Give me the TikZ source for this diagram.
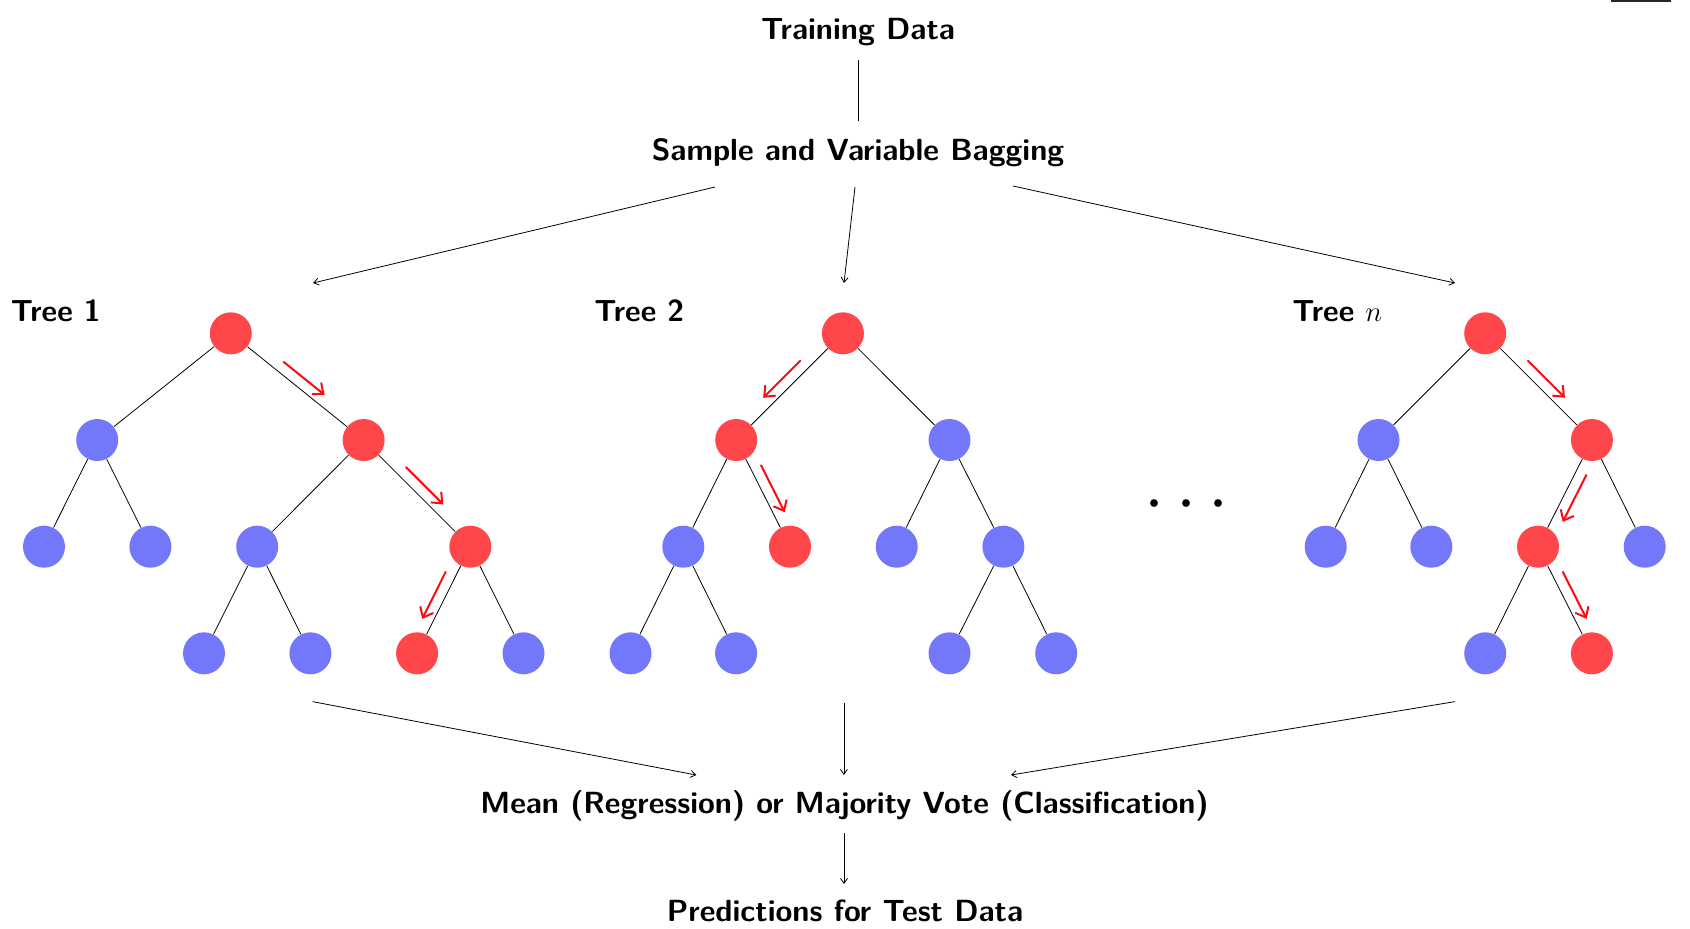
\documentclass[tikz,border=0pt]{standalone}
\usetikzlibrary{calc,arrows.meta}
\definecolor{nodered}{RGB}{255,70,75}
\definecolor{nodeblue}{RGB}{115,120,250}
\definecolor{pathred}{RGB}{255,10,20}
\newcommand\patharr[3]{%
  \coordinate (pm) at ($(#1)!0.5!(#2)$);
  \coordinate (ps0) at ($(pm)!13.25pt!(#1)$);
  \coordinate (pe0) at ($(pm)!13.25pt!(#2)$);
  \coordinate (ps) at ($(ps0)!5.4pt!#3:(pe0)$);
  \coordinate (pe) at ($(ps)+(pe0)-(ps0)$);
  \draw[patharrow] (ps) -- (pe);
}
\begin{document}
\begin{tikzpicture}[x=0.5pt,y=-0.5pt,
  lbl/.style={font=\sffamily\bfseries\fontsize{15.3}{18}\selectfont, inner sep=0, anchor=base},
  tlbl/.style={font=\sffamily\bfseries\fontsize{15.2}{18}\selectfont, inner sep=0, anchor=base west},
  rn/.style={circle, fill=nodered, minimum size=21pt, inner sep=0},
  bn/.style={circle, fill=nodeblue, minimum size=21pt, inner sep=0},
  treeedge/.style={black, line width=0.4pt},
  conn/.style={line width=0.4pt, -{Straight Barb[length=2.5pt,width=3.5pt]}},
  patharrow/.style={pathred, line width=1pt, -{Straight Barb[length=4.4pt,width=7.4pt]}}]
\useasboundingbox (0,0) rectangle (1690,928);
\fill[black!85] (1611,0) rectangle (1671,2);

% labels
\node[lbl] (train) at (858,39.3) {Training Data};
\node[lbl] (bag) at (858,160) {Sample and Variable Bagging};
\node[lbl] (mean) at (844.5,813) {Mean (Regression) or Majority Vote (Classification)};
\node[lbl] (pred) at (845,921) {Predictions for Test Data};
\node[tlbl] (lab1) at (10.5,321.7) {Tree 1};
\node[tlbl] (lab2) at (594,321.7) {Tree 2};
\node[tlbl] (lab3) at (1292,321.7) {Tree $n$};
\node[inner sep=0, anchor=base, font=\fontsize{24.88}{30}\selectfont] (dots) at (1186.3,521.3) {\scalebox{1.447}{$\cdots$}};

% connector end points
\coordinate (tdS) at (858,60);
\coordinate (tdE) at (858,121);
\coordinate (bgL) at (715,187);
\coordinate (bgM) at (855,187);
\coordinate (bgR) at (1013,186);
\coordinate (t1in) at (313,283);
\coordinate (t2in) at (844,283);
\coordinate (t3in) at (1455,283);
\coordinate (t1out) at (312.6,701.6);
\coordinate (t2out) at (843.9,702.7);
\coordinate (t3out) at (1455,701.6);
\coordinate (mnL) at (696.3,775);
\coordinate (mnM) at (843.9,775);
\coordinate (mnR) at (1011,775);
\coordinate (mnS) at (844,833);
\coordinate (prE) at (844,884);

\draw[line width=0.4pt] (tdS) -- (tdE);
\draw[conn] (bgL) -- (t1in);
\draw[conn] (bgM) -- (t2in);
\draw[conn] (bgR) -- (t3in);
\draw[conn] (t1out) -- (mnL);
\draw[conn] (t2out) -- (mnM);
\draw[conn] (t3out) -- (mnR);
\draw[conn] (mnS) -- (prE);

% Tree 1
\node[rn] (t1r) at (230.8,333.3) {};
\node[bn] (t1a) at (97.2,440) {};
\node[rn] (t1b) at (363.6,440) {};
\node[bn] (t1aa) at (44,546.7) {};
\node[bn] (t1ab) at (150.4,546.7) {};
\node[bn] (t1ba) at (257.2,546.7) {};
\node[rn] (t1bb) at (470.3,546.7) {};
\node[bn] (t1baa) at (204,653.3) {};
\node[bn] (t1bab) at (310.4,653.3) {};
\node[rn] (t1bba) at (417.1,653.3) {};
\node[bn] (t1bbb) at (523.5,653.3) {};
\draw[treeedge] (t1r) -- (t1a);
\draw[treeedge] (t1r) -- (t1b);
\draw[treeedge] (t1a) -- (t1aa);
\draw[treeedge] (t1a) -- (t1ab);
\draw[treeedge] (t1b) -- (t1ba);
\draw[treeedge] (t1b) -- (t1bb);
\draw[treeedge] (t1ba) -- (t1baa);
\draw[treeedge] (t1ba) -- (t1bab);
\draw[treeedge] (t1bb) -- (t1bba);
\draw[treeedge] (t1bb) -- (t1bbb);
\patharr{t1r}{t1b}{90}
\patharr{t1b}{t1bb}{90}
\patharr{t1bb}{t1bba}{-90}

% Tree 2
\node[rn] (t2r) at (842.9,333.3) {};
\node[rn] (t2a) at (736.2,440) {};
\node[bn] (t2b) at (949.5,440) {};
\node[bn] (t2aa) at (683.3,546.7) {};
\node[rn] (t2ab) at (790,546.7) {};
\node[bn] (t2ba) at (896.7,546.7) {};
\node[bn] (t2bb) at (1003.4,546.7) {};
\node[bn] (t2aaa) at (630.5,653.3) {};
\node[bn] (t2aab) at (736.1,653.3) {};
\node[bn] (t2bba) at (949.5,653.3) {};
\node[bn] (t2bbb) at (1056.2,653.3) {};
\draw[treeedge] (t2r) -- (t2a);
\draw[treeedge] (t2r) -- (t2b);
\draw[treeedge] (t2a) -- (t2aa);
\draw[treeedge] (t2a) -- (t2ab);
\draw[treeedge] (t2b) -- (t2ba);
\draw[treeedge] (t2b) -- (t2bb);
\draw[treeedge] (t2aa) -- (t2aaa);
\draw[treeedge] (t2aa) -- (t2aab);
\draw[treeedge] (t2bb) -- (t2bba);
\draw[treeedge] (t2bb) -- (t2bbb);
\patharr{t2r}{t2a}{-90}
\patharr{t2a}{t2ab}{90}

% Tree n
\node[rn] (t3r) at (1485.2,333.3) {};
\node[bn] (t3a) at (1378.5,440) {};
\node[rn] (t3b) at (1591.9,440) {};
\node[bn] (t3aa) at (1325.7,546.7) {};
\node[bn] (t3ab) at (1431.3,546.7) {};
\node[rn] (t3ba) at (1538,546.7) {};
\node[bn] (t3bb) at (1644.7,546.7) {};
\node[bn] (t3baa) at (1485.2,653.3) {};
\node[rn] (t3bab) at (1591.9,653.3) {};
\draw[treeedge] (t3r) -- (t3a);
\draw[treeedge] (t3r) -- (t3b);
\draw[treeedge] (t3a) -- (t3aa);
\draw[treeedge] (t3a) -- (t3ab);
\draw[treeedge] (t3b) -- (t3ba);
\draw[treeedge] (t3b) -- (t3bb);
\draw[treeedge] (t3ba) -- (t3baa);
\draw[treeedge] (t3ba) -- (t3bab);
\patharr{t3r}{t3b}{90}
\patharr{t3b}{t3ba}{90}
\patharr{t3ba}{t3bab}{90}
\end{tikzpicture}
\end{document}
